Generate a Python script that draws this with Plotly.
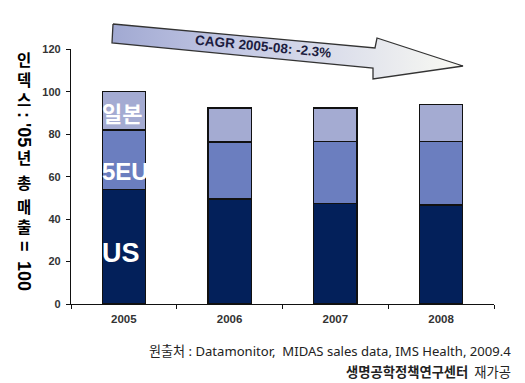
import plotly.graph_objects as go

# ---------------- data ----------------
years = ["2005", "2006", "2007", "2008"]
us_values = [54.0, 49.5, 47.2, 46.6]
eu_values = [28.0, 26.8, 29.5, 30.1]
jp_values = [18.0, 16.0, 15.6, 17.3]
series_names = ["US", "5EU", "일본"]
y_ticks = [0, 20, 40, 60, 80, 100, 120]
cagr_text = "CAGR 2005-08: -2.3%"
title_parts = ["인<br>덱<br>스", ":", "'05", "년", "총", "매<br>출", "=", "100"]
title_rotated = [False, True, True, False, False, False, True, True]
source_line1 = "원출처 : Datamonitor,  MIDAS sales data, IMS Health, 2009.4"
source_line2 = "<b>생명공학정책연구센터</b>  재가공"

# ---------------- layout constants (pixels) ----------------
W, H = 525, 383
L, R, T, B = 71, 494, 10, 304
PLOT_TOP = 49.3  # pixel of y=120


def px(x):
    return (x - L) / (R - L)


def py(y):
    return (B - y) / (B - T)


col_us = "#03205a"
col_eu = "#6b7ebf"
col_jp = "#a4abd2"
outline = dict(color="#111111", width=1.2)

fig = go.Figure()
for name, vals, col in zip(series_names, [us_values, eu_values, jp_values], [col_us, col_eu, col_jp]):
    fig.add_trace(go.Bar(x=years, y=vals, name=name, marker=dict(color=col, line=outline),
                         xaxis="x", yaxis="y", showlegend=False, hoverinfo="skip"))

# decorative block arrow (pixel space overlay)
arrow_x = [113, 375, 377, 463, 373, 373, 112, 113]
arrow_y = [24, 48, 38, 66, 79, 68, 43, 24]
fig.add_trace(go.Scatter(x=arrow_x, y=arrow_y, mode="lines", fill="toself",
                         fillgradient=dict(type="horizontal",
                                           colorscale=[[0, "#a1a9d2"], [0.35, "#c3c8e4"], [1, "#fafaf3"]]),
                         line=dict(color="#333333", width=1.3),
                         xaxis="x2", yaxis="y2", showlegend=False, hoverinfo="skip"))

annotations = []
# CAGR text
annotations.append(dict(text="<b>" + cagr_text + "</b>", x=px(263), y=py(46), xref="paper", yref="paper",
                        xanchor="center", yanchor="middle", showarrow=False, textangle=5.5,
                        font=dict(family="Liberation Sans, Arial", size=13.5, color="#1c1c40")))

# labels inside the 2005 bar
for txt, ypix, fam, size in [("일본", 112, "Noto Sans CJK KR", 22), ("5EU", 171, "Liberation Sans", 24),
                             ("US", 253, "Liberation Sans", 27)]:
    annotations.append(dict(text="<b>" + txt + "</b>", x=px(100), y=py(ypix), xref="paper", yref="paper",
                            xanchor="left", yanchor="middle", showarrow=False,
                            font=dict(family=fam + ", Noto Sans CJK KR", size=size, color="white")))

# vertical y-axis title pieces (centre pixel of each piece)
title_y_px = [80, 115, 135, 158, 183, 217, 246, 276]
for txt, rot, ypix in zip(title_parts, title_rotated, title_y_px):
    annotations.append(dict(text="<b>" + txt + "</b>", x=px(24), y=py(ypix), xref="paper", yref="paper",
                            xanchor="center", yanchor="middle", showarrow=False,
                            textangle=90 if rot else 0, borderpad=0,
                            font=dict(family="Liberation Sans, Noto Sans CJK KR",
                                      size=18 if rot else 15.5, color="black")))

# source lines
annotations.append(dict(text=source_line1, x=px(512), y=py(350.5), xref="paper", yref="paper",
                        xanchor="right", yanchor="middle", showarrow=False, borderpad=0,
                        font=dict(family="Noto Sans, Noto Sans CJK KR", size=13.1, color="#222222")))
annotations.append(dict(text=source_line2, x=px(512), y=py(371.5), xref="paper", yref="paper",
                        xanchor="right", yanchor="middle", showarrow=False, borderpad=0,
                        font=dict(family="Noto Sans CJK KR", size=13.3, color="#222222")))

fig.update_layout(
    width=W, height=H,
    margin=dict(l=L, r=W - R, t=T, b=H - B, pad=0, autoexpand=False),
    paper_bgcolor="white", plot_bgcolor="rgba(0,0,0,0)",
    barmode="stack", bargap=0.59,
    xaxis=dict(type="category", domain=[0, 1], anchor="y", showline=True, linecolor="#111111", linewidth=1.3,
               ticks="outside", tickson="boundaries", ticklen=4, tickcolor="#111111", tickwidth=1.3,
               showgrid=False, zeroline=False, automargin=False, ticklabelstandoff=4,
               tickfont=dict(family="Liberation Sans, Arial", size=11.5, color="#333333", weight="bold")),
    yaxis=dict(domain=[0, (B - PLOT_TOP) / (B - T)], anchor="x", range=[0, 120], tickvals=y_ticks,
               showline=True, linecolor="#111111", linewidth=1.3, ticks="outside", ticklen=4,
               tickcolor="#111111", tickwidth=1.3, showgrid=False, zeroline=False, automargin=False,
               ticklabelstandoff=3,
               tickfont=dict(family="Liberation Sans, Arial", size=11, color="#333333", weight="bold")),
    xaxis2=dict(domain=[0, 1], anchor="y2", range=[L, R], visible=False, fixedrange=True, automargin=False),
    yaxis2=dict(domain=[0, 1], anchor="x2", range=[B, T], visible=False, fixedrange=True, automargin=False),
    annotations=annotations,
)

fig.write_html("out.html", config={"displayModeBar": False},
               post_script="document.body.style.margin='0';document.body.style.overflow='hidden';")
